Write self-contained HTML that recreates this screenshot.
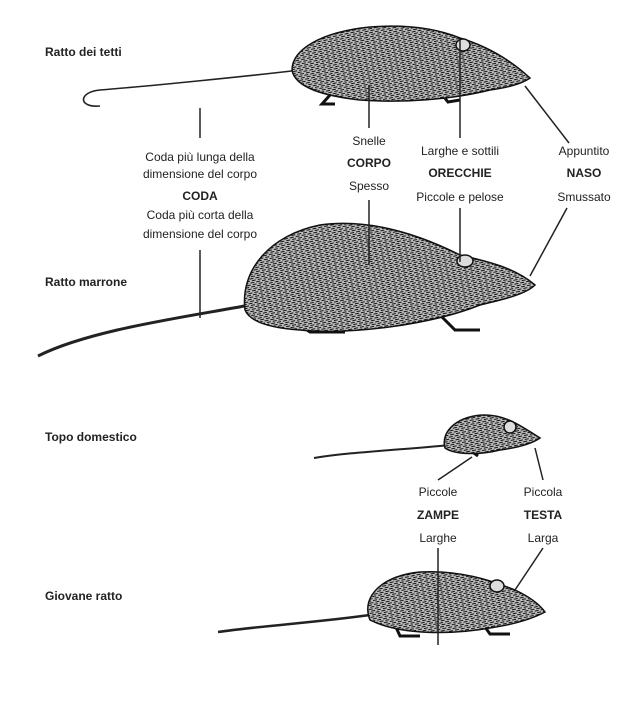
<!DOCTYPE html>
<html><head><meta charset="utf-8"><style>
html,body{margin:0;padding:0;background:#fff;width:640px;height:720px;overflow:hidden}
svg{display:block}
text{font-family:"Liberation Sans",sans-serif;font-size:12px;fill:#222}
.b{font-weight:bold}
.m{text-anchor:middle}
</style></head><body>
<svg width="640" height="720" viewBox="0 0 640 720">
<defs>
<pattern id="fur" width="6" height="4" patternUnits="userSpaceOnUse" patternTransform="rotate(-12)">
<rect width="6" height="4" fill="#bbb"/>
<path d="M0 1 H4 M2 3 H6" stroke="#111" stroke-width="1.1"/>
</pattern>
</defs>
<g fill="none" stroke="#222" stroke-width="1.6">
<path d="M300 70 C250 76 150 86 100 90 C78 92 78 108 100 106"/>
<path d="M250 305 C180 318 90 330 38 356" stroke-width="3"/>
<path d="M450 445 C400 450 350 452 314 458" stroke-width="2"/>
<path d="M370 615 C320 622 260 626 218 632" stroke-width="2.5"/>
</g>
<g fill="none" stroke="#111" stroke-width="3">
<path d="M330 95 L322 104 L335 104"/><path d="M440 92 L448 102 L460 100"/>
<path d="M300 325 L310 332 L345 332"/><path d="M440 315 L455 330 L480 330"/>
<path d="M395 625 L400 636 L420 636"/><path d="M480 620 L490 634 L510 634"/>
<path d="M470 450 L478 456"/>
</g>
<g fill="url(#fur)" stroke="#111" stroke-width="1.5">
<path d="M292 70 C292 50 320 32 370 27 C410 24 440 30 460 38 C480 44 505 55 530 78 C520 85 505 88 490 90 C450 100 400 103 360 100 C325 96 295 88 292 70Z"/>
<path d="M245 310 C240 270 270 235 320 225 C370 218 420 235 460 255 C490 262 515 268 535 285 C525 295 500 300 480 305 C430 325 350 335 300 330 C270 328 250 322 245 310Z"/>
<path d="M445 448 C440 430 460 415 485 415 C505 415 520 425 540 438 C530 445 515 448 500 450 C480 455 455 455 445 448Z"/>
<path d="M370 620 C360 595 385 575 420 572 C460 570 490 580 515 590 C530 597 540 605 545 612 C530 620 510 625 490 628 C450 635 400 635 370 620Z"/>
</g>
<g fill="#ddd" stroke="#111" stroke-width="1.5">
<ellipse cx="463" cy="45" rx="7" ry="6"/>
<ellipse cx="465" cy="261" rx="8" ry="6"/>
<ellipse cx="510" cy="427" rx="6" ry="6"/>
<ellipse cx="497" cy="586" rx="7" ry="6"/>
</g>
<g stroke="#222" stroke-width="1.5" fill="none">
<line x1="200" y1="108" x2="200" y2="138"/>
<line x1="200" y1="250" x2="200" y2="318"/>
<line x1="369" y1="85" x2="369" y2="128"/>
<line x1="369" y1="200" x2="369" y2="265"/>
<line x1="460" y1="40" x2="460" y2="138"/>
<line x1="460" y1="208" x2="460" y2="262"/>
<line x1="569" y1="143" x2="525" y2="86"/>
<line x1="567" y1="208" x2="530" y2="276"/>
<line x1="438" y1="480" x2="472" y2="457"/>
<line x1="438" y1="548" x2="438" y2="645"/>
<line x1="543" y1="480" x2="535" y2="448"/>
<line x1="543" y1="548" x2="515" y2="590"/>
</g>
<text class="b" x="45" y="56">Ratto dei tetti</text>
<text class="b" x="45" y="286">Ratto marrone</text>
<text class="b" x="45" y="441">Topo domestico</text>
<text class="b" x="45" y="600">Giovane ratto</text>
<text class="m" x="200" y="161">Coda più lunga della</text>
<text class="m" x="200" y="178">dimensione del corpo</text>
<text class="m b" x="200" y="200">CODA</text>
<text class="m" x="200" y="219">Coda più corta della</text>
<text class="m" x="200" y="238">dimensione del corpo</text>
<text class="m" x="369" y="145">Snelle</text>
<text class="m b" x="369" y="167">CORPO</text>
<text class="m" x="369" y="190">Spesso</text>
<text class="m" x="460" y="155">Larghe e sottili</text>
<text class="m b" x="460" y="177">ORECCHIE</text>
<text class="m" x="460" y="201">Piccole e pelose</text>
<text class="m" x="584" y="155">Appuntito</text>
<text class="m b" x="584" y="177">NASO</text>
<text class="m" x="584" y="201">Smussato</text>
<text class="m" x="438" y="496">Piccole</text>
<text class="m b" x="438" y="519">ZAMPE</text>
<text class="m" x="438" y="542">Larghe</text>
<text class="m" x="543" y="496">Piccola</text>
<text class="m b" x="543" y="519">TESTA</text>
<text class="m" x="543" y="542">Larga</text>
</svg>
</body></html>
